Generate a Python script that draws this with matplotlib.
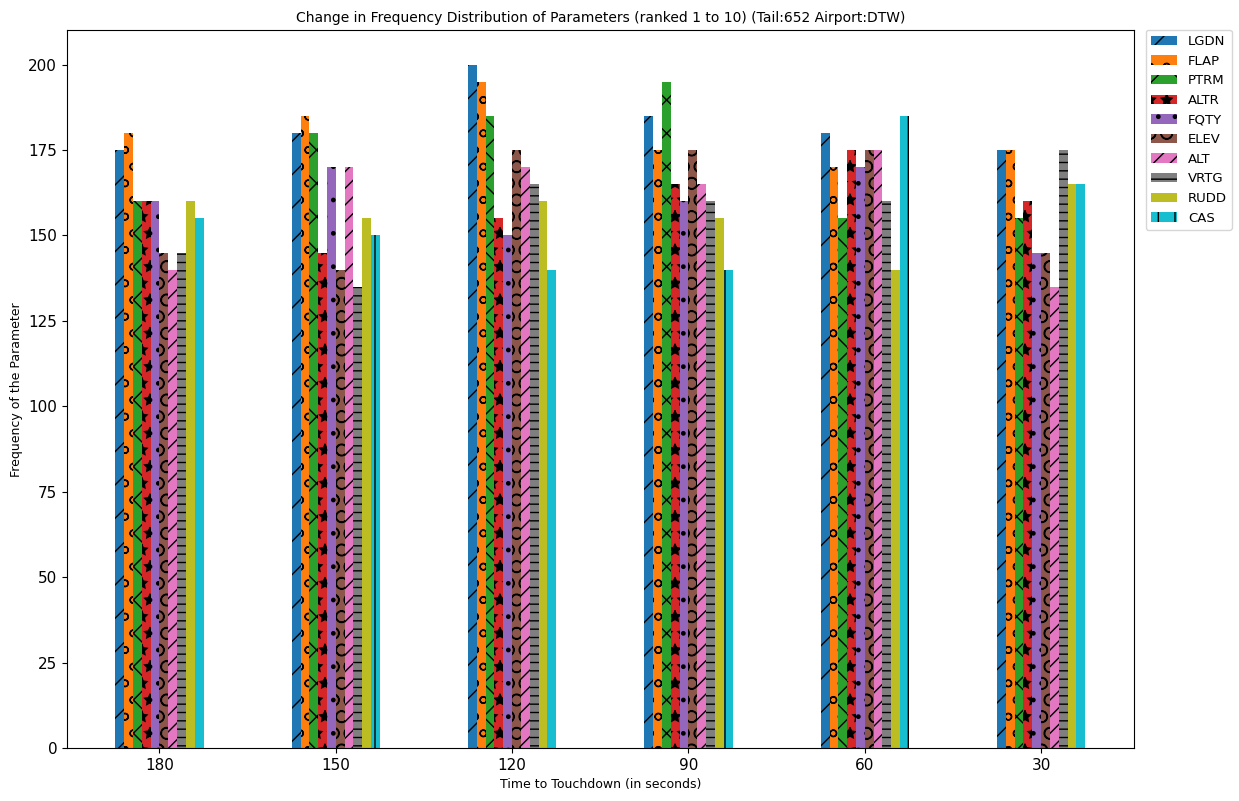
import numpy as np
import matplotlib.pyplot as plt

times = ['180', '150', '120', '90', '60', '30']
params = ['LGDN', 'FLAP', 'PTRM', 'ALTR', 'FQTY', 'ELEV', 'ALT', 'VRTG', 'RUDD', 'CAS']

LGDN = [175, 180, 200, 185, 180, 175]
FLAP = [180, 185, 195, 175, 170, 175]
PTRM = [160, 180, 185, 195, 155, 155]
ALTR = [160, 145, 155, 165, 175, 160]
FQTY = [160, 170, 150, 160, 170, 145]
ELEV = [145, 140, 175, 175, 175, 145]
ALT  = [140, 170, 170, 165, 175, 135]
VRTG = [145, 135, 165, 160, 160, 175]
RUDD = [160, 155, 160, 155, 140, 165]
CAS  = [155, 150, 140, 140, 185, 165]

series = [LGDN, FLAP, PTRM, ALTR, FQTY, ELEV, ALT, VRTG, RUDD, CAS]
hatches = ['/', 'o', 'x', '*', '.', 'O', '//', '--', '', '|']

fig, ax = plt.subplots(figsize=(12.39, 8.01), dpi=100)
x = np.arange(len(times))
w = 0.05
for i in range(len(params)):
    ax.bar(x - 0.25 + w*i + w/2, series[i], w, label=params[i], hatch=hatches[i])

ax.set_xticks(x)
ax.set_xticklabels(times, fontsize=11)
ax.tick_params(axis='y', labelsize=11)
ax.set_xlabel('Time to Touchdown (in seconds)', fontsize=9)
ax.set_ylabel('Frequency of the Parameter', fontsize=9)
ax.set_title('Change in Frequency Distribution of Parameters (ranked 1 to 10) (Tail:652 Airport:DTW)', fontsize=10)
ax.legend(loc='upper left', bbox_to_anchor=(1.005, 1.01), fontsize=9.5)
plt.subplots_adjust(left=0.054, right=0.915, top=0.962, bottom=0.066)
plt.savefig('out.png')
